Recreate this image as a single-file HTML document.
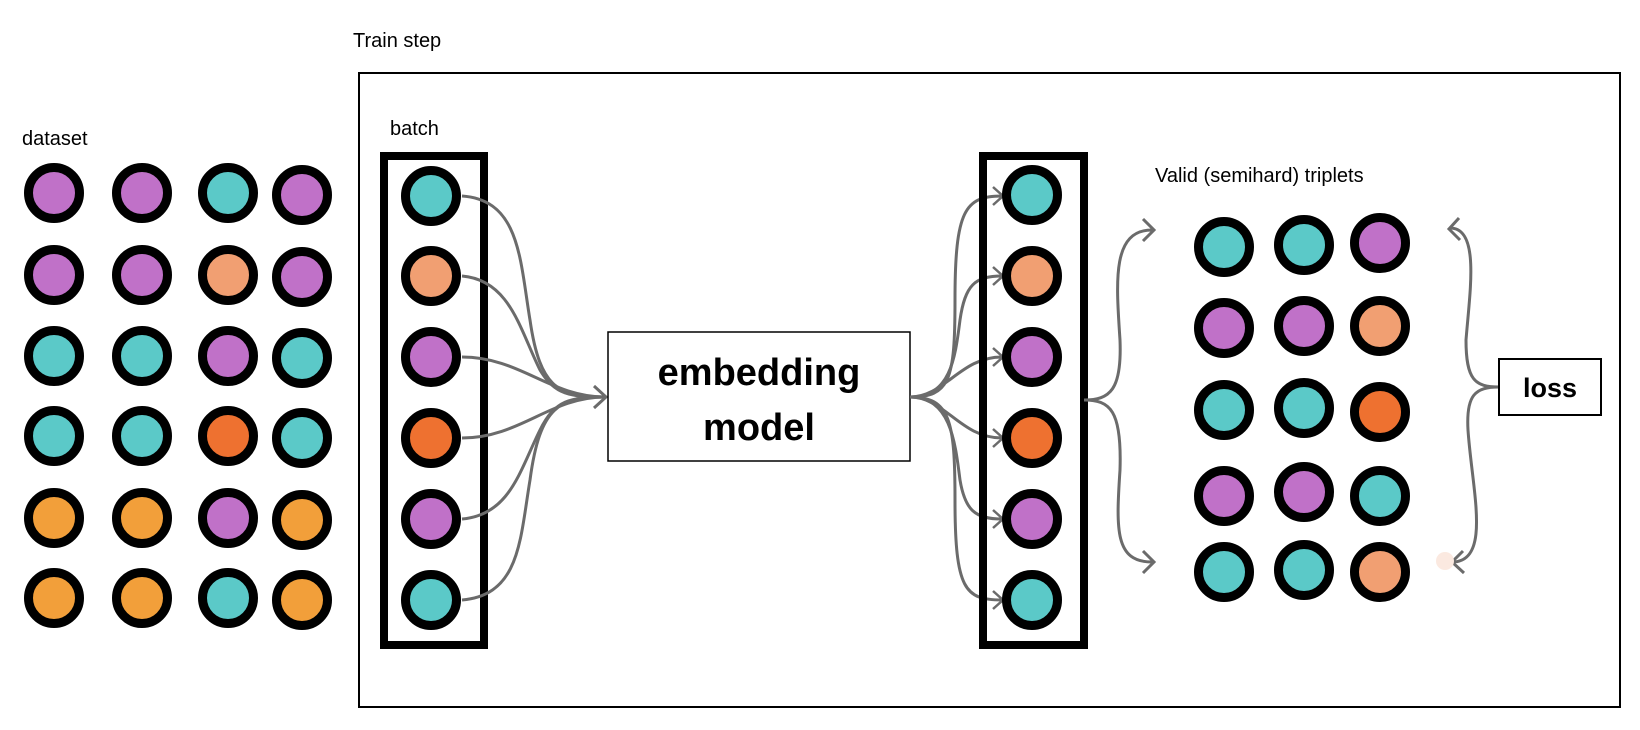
<!DOCTYPE html>
<html><head><meta charset="utf-8"><style>
html,body{margin:0;padding:0;background:#fff;}
svg{display:block;}
text{font-family:"Comic Sans MS","Liberation Sans",sans-serif;}
</style></head><body>
<svg width="1640" height="730" viewBox="0 0 1640 730" xmlns="http://www.w3.org/2000/svg">
<defs>
<g id="pc"><circle r="25.5" fill="#c071c8" stroke="#000" stroke-width="9"/></g>
<g id="tc"><circle r="25.5" fill="#5bc9c8" stroke="#000" stroke-width="9"/></g>
<g id="sc"><circle r="25.5" fill="#f19f72" stroke="#000" stroke-width="9"/></g>
<g id="rc"><circle r="25.5" fill="#ee7130" stroke="#000" stroke-width="9"/></g>
<g id="oc"><circle r="25.5" fill="#f29f3a" stroke="#000" stroke-width="9"/></g>
</defs>
<text x="353" y="47" font-size="20">Train step</text>
<rect x="359" y="73" width="1261" height="634" fill="none" stroke="#000" stroke-width="2"/>
<text x="22" y="145" font-size="20">dataset</text>
<g>
<use href="#pc" x="54" y="193"/><use href="#pc" x="142" y="193"/><use href="#tc" x="228" y="193"/><use href="#pc" x="302" y="195"/>
<use href="#pc" x="54" y="275"/><use href="#pc" x="142" y="275"/><use href="#sc" x="228" y="275"/><use href="#pc" x="302" y="277"/>
<use href="#tc" x="54" y="356"/><use href="#tc" x="142" y="356"/><use href="#pc" x="228" y="356"/><use href="#tc" x="302" y="358"/>
<use href="#tc" x="54" y="436"/><use href="#tc" x="142" y="436"/><use href="#rc" x="228" y="436"/><use href="#tc" x="302" y="438"/>
<use href="#oc" x="54" y="518"/><use href="#oc" x="142" y="518"/><use href="#pc" x="228" y="518"/><use href="#oc" x="302" y="520"/>
<use href="#oc" x="54" y="598"/><use href="#oc" x="142" y="598"/><use href="#tc" x="228" y="598"/><use href="#oc" x="302" y="600"/>
</g>
<text x="390" y="135" font-size="20">batch</text>
<rect x="384" y="156" width="100" height="489" fill="none" stroke="#000" stroke-width="8"/>
<use href="#tc" x="431" y="196"/><use href="#sc" x="431" y="276"/><use href="#pc" x="431" y="357"/>
<use href="#rc" x="431" y="438"/><use href="#pc" x="431" y="519"/><use href="#tc" x="431" y="600"/>
<g fill="none" stroke="#6b6b6b" stroke-width="3">
<path d="M462 196 C520 200 520 260 530 320 C540 390 560 397 605 397"/>
<path d="M462 276 C510 280 520 330 540 370 C555 395 570 397 605 397"/>
<path d="M462 357 C520 357 550 397 605 397"/>
<path d="M462 438 C520 438 550 397 605 397"/>
<path d="M462 519 C510 515 520 470 540 430 C555 400 570 397 605 397"/>
<path d="M462 600 C520 595 520 540 530 480 C540 405 560 397 605 397"/>
<path d="M594 386 L606 397 L594 408"/>
</g>
<rect x="608" y="332" width="302" height="129" fill="#fff" stroke="#000" stroke-width="1.5"/>
<text x="759" y="385" font-size="38" font-weight="bold" text-anchor="middle">embedding</text>
<text x="759" y="440" font-size="38" font-weight="bold" text-anchor="middle">model</text>
<g fill="none" stroke="#6b6b6b" stroke-width="3">
<path d="M910 397 C950 397 955 380 955 300 C955 210 965 196 1002 196"/>
<path d="M910 397 C950 397 955 360 960 320 C965 285 975 276 1002 276"/>
<path d="M910 397 C945 397 960 357 1002 357"/>
<path d="M910 397 C945 397 960 438 1002 438"/>
<path d="M910 397 C950 397 955 440 960 480 C965 510 975 519 1002 519"/>
<path d="M910 397 C950 397 955 420 955 500 C955 590 965 600 1002 600"/>
<g stroke-width="2.5">
<path d="M993 187 L1003 196 L993 205"/><path d="M993 267 L1003 276 L993 285"/><path d="M993 348 L1003 357 L993 366"/>
<path d="M993 429 L1003 438 L993 447"/><path d="M993 510 L1003 519 L993 528"/><path d="M993 591 L1003 600 L993 609"/>
</g>
</g>
<rect x="983" y="156" width="101" height="489" fill="none" stroke="#000" stroke-width="8"/>
<use href="#tc" x="1032" y="195"/><use href="#sc" x="1032" y="276"/><use href="#pc" x="1032" y="357"/>
<use href="#rc" x="1032" y="438"/><use href="#pc" x="1032" y="519"/><use href="#tc" x="1032" y="600"/>
<text x="1155" y="182" font-size="20">Valid (semihard) triplets</text>
<g fill="none" stroke="#6b6b6b" stroke-width="3">
<path d="M1084 400 C1110 400 1122 390 1120 340 C1116 280 1112 230 1152 230"/>
<path d="M1084 400 C1110 400 1122 410 1120 470 C1116 530 1115 562 1152 562"/>
<path d="M1143 219 L1154 230 L1143 241"/><path d="M1143 551 L1154 562 L1143 573"/>
<path d="M1499 387 C1475 387 1466 380 1466 340 C1470 290 1480 228 1450 228"/>
<path d="M1499 387 C1475 387 1466 395 1468 430 C1472 490 1492 562 1452 562"/>
<path d="M1459 218 L1449 229 L1460 240"/><path d="M1463 551 L1452 562 L1464 573"/>
</g>
<use href="#tc" x="1224" y="247"/><use href="#tc" x="1304" y="245"/><use href="#pc" x="1380" y="243"/>
<use href="#pc" x="1224" y="328"/><use href="#pc" x="1304" y="326"/><use href="#sc" x="1380" y="326"/>
<use href="#tc" x="1224" y="410"/><use href="#tc" x="1304" y="408"/><use href="#rc" x="1380" y="412"/>
<use href="#pc" x="1224" y="496"/><use href="#pc" x="1304" y="492"/><use href="#tc" x="1380" y="496"/>
<use href="#tc" x="1224" y="572"/><use href="#tc" x="1304" y="570"/><use href="#sc" x="1380" y="572"/>
<circle cx="1445" cy="561" r="9" fill="#fbe9e0"/>
<rect x="1499" y="359" width="102" height="56" fill="#fff" stroke="#000" stroke-width="2"/>
<text x="1550" y="397" font-size="27" font-weight="bold" text-anchor="middle">loss</text>
</svg>
</body></html>
